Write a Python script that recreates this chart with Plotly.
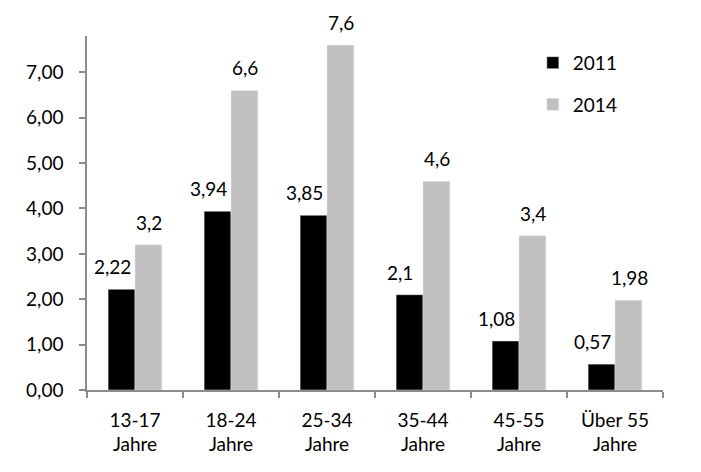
import plotly.graph_objs as go

categories = ["13-17<br>Jahre", "18-24<br>Jahre", "25-34<br>Jahre",
              "35-44<br>Jahre", "45-55<br>Jahre", "Über 55<br>Jahre"]
values_2011 = [2.22, 3.94, 3.85, 2.1, 1.08, 0.57]
values_2014 = [3.2, 6.6, 7.6, 4.6, 3.4, 1.98]
tick_vals = [0, 1, 2, 3, 4, 5, 6, 7]


def label(v):
    return str(v).replace(".", ",")


font = dict(family="Lato, Open Sans, sans-serif", size=19, color="black")

fig = go.Figure()
fig.add_trace(go.Bar(x=categories, y=values_2011, name="2011", legendgroup="a",
                     marker=dict(color="black")))
fig.add_trace(go.Bar(x=categories, y=values_2014, name="2014", legendgroup="b",
                     marker=dict(color="#c0c0c0")))

# data labels: 2011 pushed left of its bar, 2014 centred on its bar
for cat, v in zip(categories, values_2011):
    fig.add_annotation(x=cat, y=v, text=label(v), showarrow=False,
                       xanchor="center", yanchor="bottom", xshift=-23, yshift=9,
                       font=font)
for cat, v in zip(categories, values_2014):
    fig.add_annotation(x=cat, y=v, text=label(v), showarrow=False,
                       xanchor="center", yanchor="bottom", xshift=14, yshift=9,
                       font=font)

axis_col = "#8c8c8c"
fig.update_layout(
    width=693, height=464,
    margin=dict(l=79, r=38, t=28, b=82),
    paper_bgcolor="white", plot_bgcolor="white",
    font=font,
    separators=",.",
    barmode="group", bargap=0.44, bargroupgap=0,
    showlegend=True,
    legend=dict(x=0.774, y=0.978, xanchor="left", yanchor="top",
                font=dict(size=19), itemwidth=30, tracegroupgap=14,
                bgcolor="rgba(0,0,0,0)"),
    xaxis=dict(showline=True, linecolor=axis_col, linewidth=1.5,
               ticks="outside", tickson="boundaries", tickcolor=axis_col,
               ticklen=6, tickwidth=1.5, showgrid=False, automargin=False,
               ticklabelstandoff=12),
    yaxis=dict(range=[0, 7.8], tickvals=tick_vals, tickformat=".2f",
               showline=True, linecolor=axis_col, linewidth=1.5,
               ticks="outside", tickcolor=axis_col, ticklen=6, tickwidth=1.5,
               showgrid=False, zeroline=False, automargin=False,
               ticklabelstandoff=12),
)

fig.write_html("out.html")
